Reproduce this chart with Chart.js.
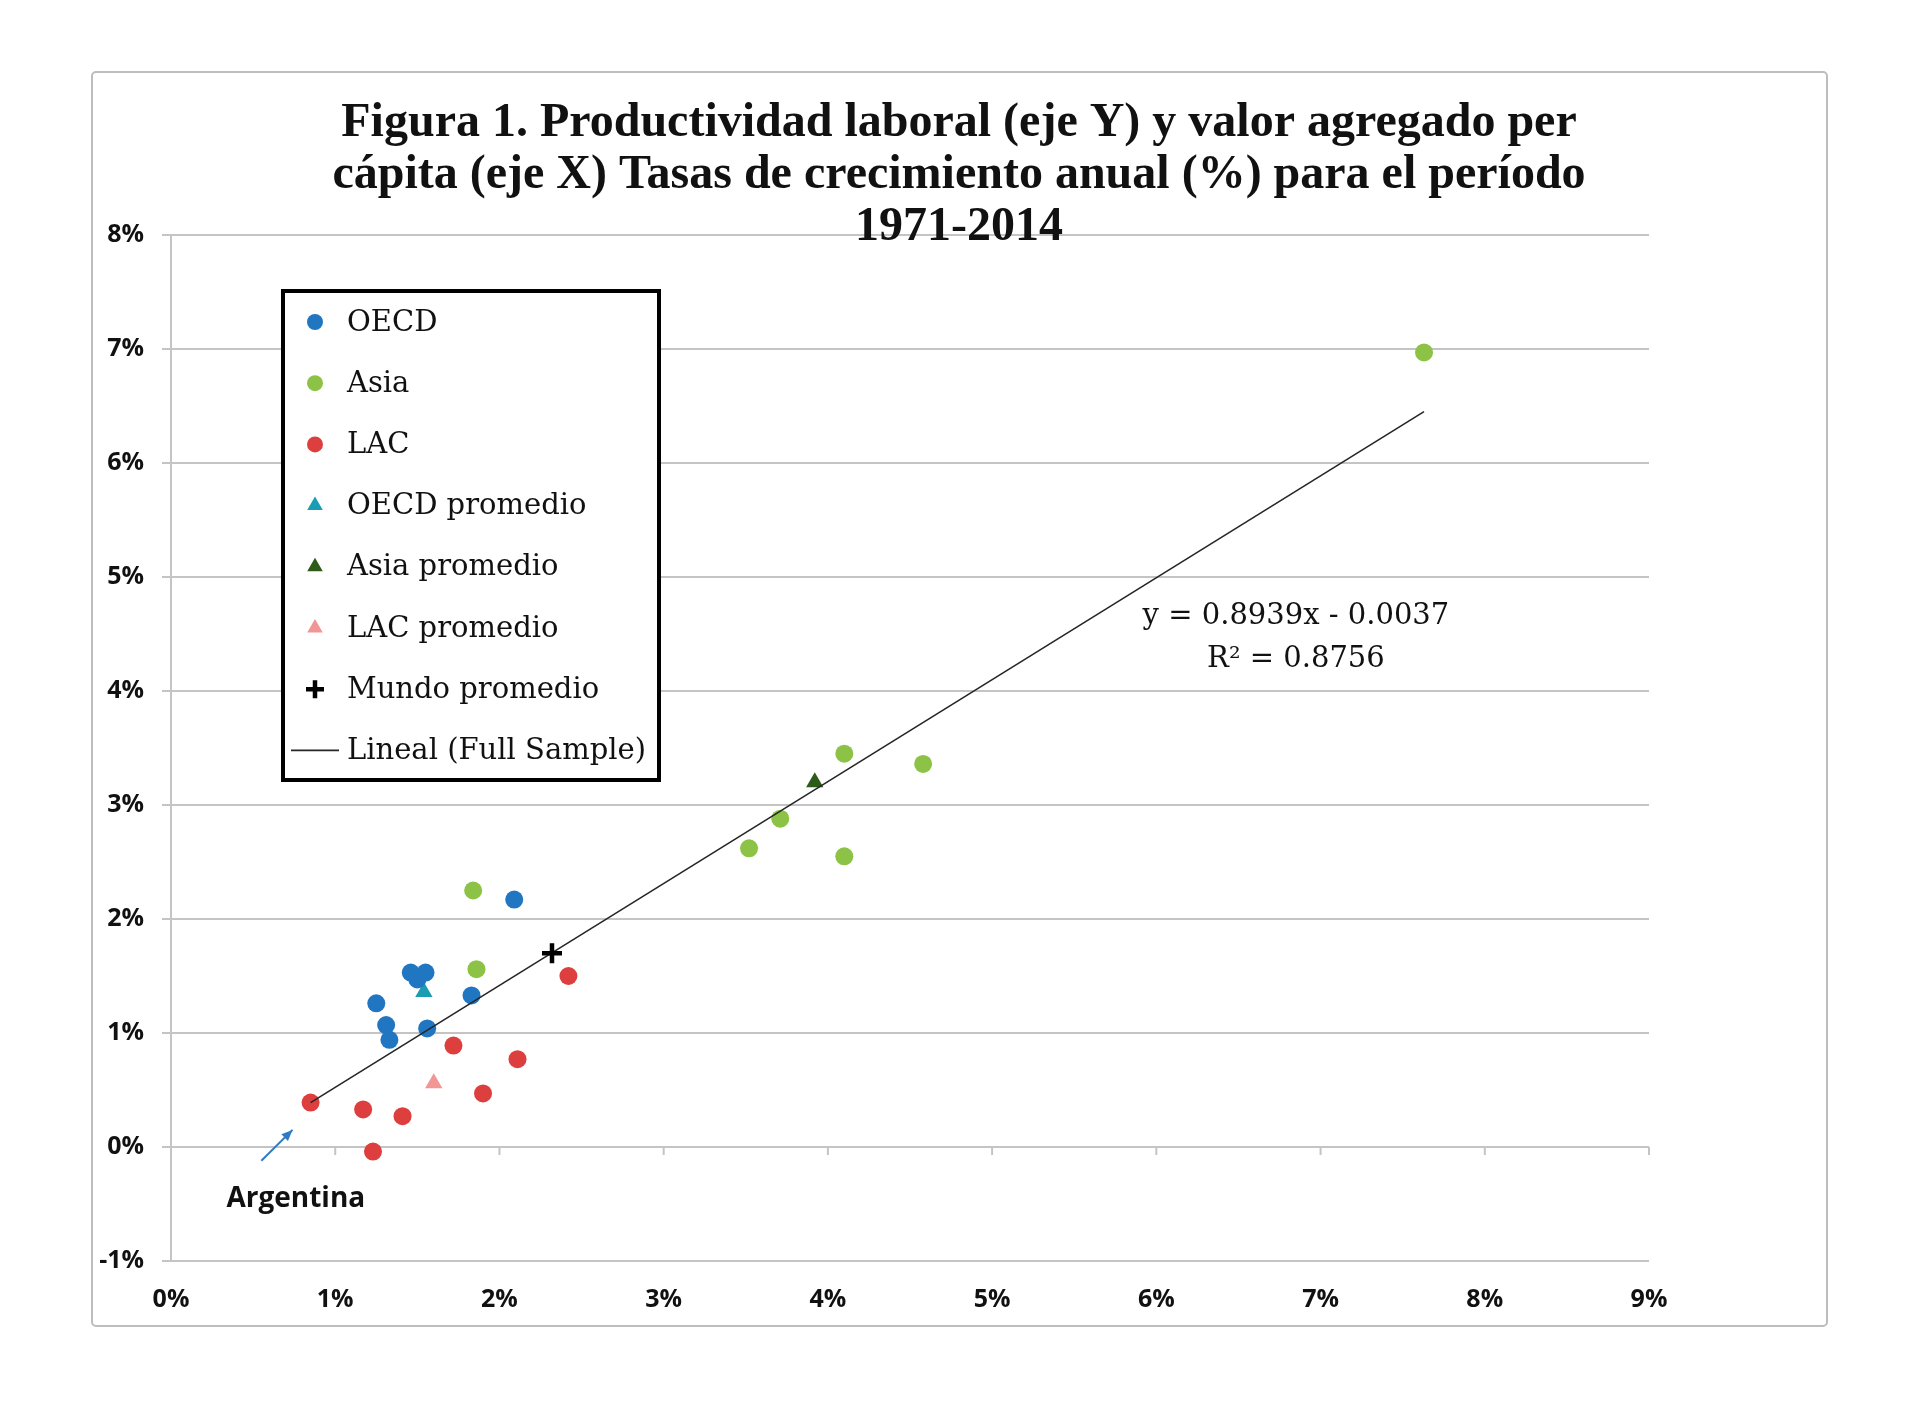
<!DOCTYPE html>
<html><head><meta charset="utf-8">
<script src="https://cdn.jsdelivr.net/npm/chart.js@4.4.1/dist/chart.umd.min.js"></script>
<style>html,body{margin:0;padding:0;background:#fff;}canvas{display:block;}</style>
</head><body>
<canvas id="c" width="1920" height="1402"></canvas>
<script>
// ---------- DATA ----------
const titleLines = [
  'Figura 1. Productividad laboral (eje Y) y valor agregado per',
  'cápita (eje X) Tasas de crecimiento anual (%) para el período',
  '1971-2014'
];
const xTickLabels = ['0%','1%','2%','3%','4%','5%','6%','7%','8%','9%'];
const yTickLabels = ['-1%','0%','1%','2%','3%','4%','5%','6%','7%','8%'];

const oecdX = [1.25, 1.31, 1.33, 1.46, 1.50, 1.55, 1.56, 1.83, 2.09];
const oecdY = [1.26, 1.07, 0.94, 1.53, 1.47, 1.53, 1.04, 1.33, 2.17];

const asiaX = [1.84, 1.86, 3.52, 3.71, 4.10, 4.10, 4.58, 7.63];
const asiaY = [2.25, 1.56, 2.62, 2.88, 3.45, 2.55, 3.36, 6.97];

const lacX = [0.85, 1.17, 1.23, 1.41, 1.72, 1.90, 2.11, 2.42];
const lacY = [0.39, 0.33, -0.04, 0.27, 0.89, 0.47, 0.77, 1.50];

const oecdAvgX = [1.54]; const oecdAvgY = [1.36];
const asiaAvgX = [3.92]; const asiaAvgY = [3.20];
const lacAvgX  = [1.60]; const lacAvgY  = [0.56];
const worldAvgX = [2.32]; const worldAvgY = [1.70];

const trendSlope = 0.8939;
const trendIntercept = -0.37;   // -0.0037 expressed in percent units
const equationText = ['y = 0.8939x - 0.0037', 'R\u00B2 = 0.8756'];
const equationPos = {x: 6.85, y1: 4.65, y2: 4.28};
const argentinaLabel = 'Argentina';
const argentinaPos = {x: 0.76, y: -0.46};
const arrowFrom = {x: 0.55, y: -0.12};
const arrowTo = {x: 0.74, y: 0.15};

const seriesLabels = ['OECD','Asia','LAC','OECD promedio','Asia promedio','LAC promedio','Mundo promedio','Lineal (Full Sample)'];

// ---------- BUILD ----------
const pts = (xs, ys) => xs.map((x, i) => ({x, y: ys[i]}));
const allX = [...oecdX, ...asiaX, ...lacX];
const trendMin = Math.min(...allX), trendMax = Math.max(...allX);
const trendData = [trendMin, trendMax].map(x => ({x, y: trendSlope * x + trendIntercept}));

const C = {
  oecd: '#2176C2', asia: '#8CC346', lac: '#DD3E3E',
  oecdAvg: '#1A9CB2', asiaAvg: '#2E5A1A', lacAvg: '#F29595', world: '#000000', line: '#262626'
};
const gridColor = '#C4C4C4';

function circleDs(label, data, color) {
  return {label, data, pointStyle: 'circle', pointRadius: 9, pointHoverRadius: 9,
    backgroundColor: color, borderColor: color, borderWidth: 0, showLine: false};
}
function triDs(label, data, color) {
  return {label, data, pointStyle: 'triangle', pointRadius: 10, pointHoverRadius: 10,
    backgroundColor: color, borderColor: color, borderWidth: 0, showLine: false};
}

const datasets = [
  circleDs(seriesLabels[0], pts(oecdX, oecdY), C.oecd),
  circleDs(seriesLabels[1], pts(asiaX, asiaY), C.asia),
  circleDs(seriesLabels[2], pts(lacX, lacY), C.lac),
  triDs(seriesLabels[3], pts(oecdAvgX, oecdAvgY), C.oecdAvg),
  triDs(seriesLabels[4], pts(asiaAvgX, asiaAvgY), C.asiaAvg),
  triDs(seriesLabels[5], pts(lacAvgX, lacAvgY), C.lacAvg),
  {label: seriesLabels[6], data: pts(worldAvgX, worldAvgY), pointStyle: 'cross', pointRadius: 10,
   pointHoverRadius: 10, backgroundColor: C.world, borderColor: C.world, borderWidth: 4.5, showLine: false, order: -2},
  {label: seriesLabels[7], data: trendData, showLine: true, pointRadius: 0, borderColor: C.line,
   borderWidth: 1.6, fill: false, order: -1}
];

function drawMarker(ctx, ds, x, y) {
  ctx.save();
  if (ds.showLine) {
    ctx.strokeStyle = ds.borderColor; ctx.lineWidth = 1.6;
    ctx.beginPath(); ctx.moveTo(x - 24, y); ctx.lineTo(x + 24, y); ctx.stroke();
  } else {
    ctx.fillStyle = ds.backgroundColor; ctx.strokeStyle = ds.borderColor;
    ctx.lineWidth = ds.borderWidth;
    Chart.helpers.drawPoint(ctx, {pointStyle: ds.pointStyle, radius: ds.pointStyle === 'circle' ? 8 : 9,
      borderWidth: ds.borderWidth, rotation: 0}, x, y);
  }
  ctx.restore();
}

const decor = {
  id: 'decor',
  beforeDraw(chart) {
    const ctx = chart.ctx;
    ctx.save();
    ctx.fillStyle = '#fff'; ctx.fillRect(0, 0, chart.width, chart.height);
    ctx.strokeStyle = '#BDBDBD'; ctx.lineWidth = 2;
    ctx.beginPath(); ctx.roundRect(92, 72, 1735, 1254, 4); ctx.stroke();
    ctx.restore();
  },
  beforeDatasetsDraw(chart) {
    const ctx = chart.ctx, xs = chart.scales.x, ys = chart.scales.y;
    const y0 = ys.getPixelForValue(0);
    ctx.save();
    ctx.strokeStyle = gridColor; ctx.lineWidth = 2;
    xs.ticks.forEach(t => {
      const px = xs.getPixelForValue(t.value);
      ctx.beginPath(); ctx.moveTo(px, y0); ctx.lineTo(px, y0 + 8); ctx.stroke();
    });
    ctx.restore();
  },
  afterDraw(chart) {
    const ctx = chart.ctx, xs = chart.scales.x, ys = chart.scales.y;
    ctx.save();
    // Title
    ctx.fillStyle = '#111';
    ctx.font = 'bold 48px "Liberation Serif"';
    ctx.textAlign = 'center'; ctx.textBaseline = 'middle';
    [124, 176, 228].forEach((y, i) => ctx.fillText(titleLines[i], 959, y));

    // Legend box
    const bx = 283, by = 291, bw = 376, bh = 489;
    ctx.fillStyle = '#fff'; ctx.fillRect(bx, by, bw, bh);
    ctx.strokeStyle = '#000'; ctx.lineWidth = 4; ctx.strokeRect(bx, by, bw, bh);
    ctx.font = '29px "DejaVu Serif"'; ctx.textAlign = 'left'; ctx.textBaseline = 'middle';
    chart.data.datasets.forEach((ds, i) => {
      const y = 322 + i * 61.2;
      drawMarker(ctx, ds, 315, y);
      ctx.fillStyle = '#111';
      ctx.fillText(ds.label, 347, y + 1);
    });

    // Equation
    ctx.font = '29px "DejaVu Serif"'; ctx.textAlign = 'center';
    ctx.fillStyle = '#111';
    const ex = xs.getPixelForValue(equationPos.x);
    ctx.fillText(equationText[0], ex, ys.getPixelForValue(equationPos.y1));
    ctx.fillText(equationText[1], ex, ys.getPixelForValue(equationPos.y2));

    // Argentina annotation
    ctx.font = 'bold 28px "Open Sans"';
    ctx.fillText(argentinaLabel, xs.getPixelForValue(argentinaPos.x), ys.getPixelForValue(argentinaPos.y));
    const ax0 = xs.getPixelForValue(arrowFrom.x), ay0 = ys.getPixelForValue(arrowFrom.y);
    const ax1 = xs.getPixelForValue(arrowTo.x), ay1 = ys.getPixelForValue(arrowTo.y);
    ctx.strokeStyle = '#2E7BC4'; ctx.fillStyle = '#2E7BC4'; ctx.lineWidth = 2;
    ctx.beginPath(); ctx.moveTo(ax0, ay0); ctx.lineTo(ax1, ay1); ctx.stroke();
    const ang = Math.atan2(ay1 - ay0, ax1 - ax0), hl = 12;
    ctx.beginPath(); ctx.moveTo(ax1, ay1);
    ctx.lineTo(ax1 - hl * Math.cos(ang - 0.4), ay1 - hl * Math.sin(ang - 0.4));
    ctx.lineTo(ax1 - hl * Math.cos(ang + 0.4), ay1 - hl * Math.sin(ang + 0.4));
    ctx.closePath(); ctx.fill();
    ctx.restore();
  }
};

const tickFont = {family: '"Open Sans"', size: 25, weight: 'bold'};
new Chart(document.getElementById('c'), {
  type: 'scatter',
  data: {datasets},
  options: {
    responsive: false, animation: false, devicePixelRatio: 1,
    layout: {padding: {top: 235, right: 271, left: 0, bottom: 0}},
    plugins: {legend: {display: false}, title: {display: false}, tooltip: {enabled: false}},
    scales: {
      x: {type: 'linear', min: 0, max: 9,
        grid: {display: false, drawTicks: false}, border: {display: false},
        ticks: {stepSize: 1, autoSkip: false, padding: 24, font: tickFont, color: '#111',
          callback: (v, i) => xTickLabels[i]},
        afterFit(s) { s.height = 141; }},
      y: {type: 'linear', min: -1, max: 8,
        grid: {color: gridColor, lineWidth: 2, tickLength: 9, drawTicks: true},
        border: {display: true, color: gridColor, width: 2},
        ticks: {stepSize: 1, autoSkip: false, padding: 18, font: tickFont, color: '#111',
          callback: (v, i) => yTickLabels[i]},
        afterFit(s) { s.width = 171; }}
    }
  },
  plugins: [decor]
});
</script>
</body></html>
